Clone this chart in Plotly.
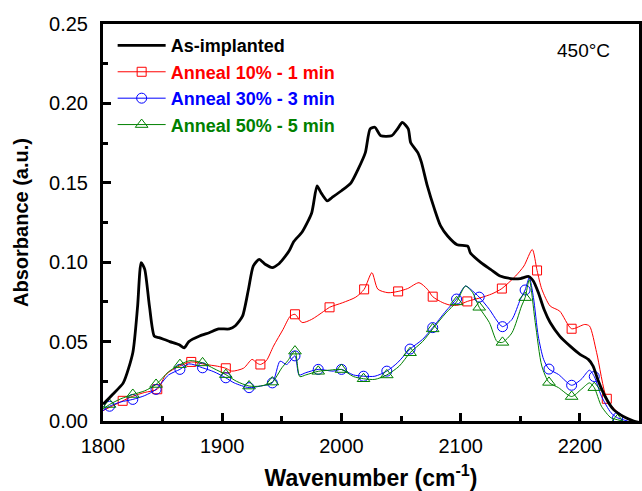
import plotly.graph_objects as go

# ---------------- data ----------------
bk_x = [1800, 1808, 1817, 1825, 1829, 1832, 1835, 1839, 1843, 1847, 1856, 1864, 1868, 1872,
        1881, 1889, 1897, 1906, 1911, 1917, 1922, 1926, 1931, 1936, 1942, 1947, 1951, 1956,
        1960, 1967, 1975, 1979.5, 1983, 1988, 1992, 2000, 2008, 2014, 2020, 2024, 2028, 2033,
        2042, 2047, 2051, 2056, 2058, 2064, 2067, 2072, 2078, 2083, 2089, 2097, 2106, 2108,
        2117, 2125, 2133, 2142, 2150, 2157, 2161, 2165, 2170, 2175, 2183, 2192, 2200, 2207,
        2211, 2215, 2221, 2228, 2236, 2245, 2250]
bk_y = [0.0105, 0.0167, 0.024, 0.043, 0.072, 0.0998, 0.0955, 0.072, 0.0535, 0.0525, 0.050,
        0.048, 0.046, 0.050, 0.0535, 0.0556, 0.058, 0.058, 0.060, 0.066, 0.083, 0.0976, 0.1018,
        0.0987, 0.0966, 0.0987, 0.102, 0.107, 0.113, 0.119, 0.131, 0.148, 0.1435, 0.1386,
        0.1407, 0.145, 0.150, 0.1586, 0.169, 0.184, 0.185, 0.1796, 0.1796, 0.184, 0.188, 0.184,
        0.1754, 0.169, 0.163, 0.148, 0.1334, 0.123, 0.1165, 0.111, 0.110, 0.106, 0.0997,
        0.0955, 0.0913, 0.0897, 0.0897, 0.091, 0.088, 0.081, 0.070, 0.062, 0.0535, 0.047,
        0.042, 0.0388, 0.0346, 0.026, 0.0156, 0.0073, 0.003, 0.0, -0.001]

r_x = [1800, 1808, 1816.5, 1825, 1835, 1845.5, 1853, 1864, 1874, 1886, 1896, 1903, 1908,
       1918, 1925, 1929, 1932, 1937, 1943, 1951, 1957, 1961, 1967, 1975, 1985, 1990, 2001,
       2012, 2019, 2025.5, 2030.5, 2039, 2047.5, 2055.5, 2065, 2072, 2076.5, 2085, 2092, 2098,
       2105.5, 2117, 2126, 2134.5, 2146, 2153, 2160, 2164, 2168, 2175, 2183, 2193, 2204, 2208,
       2214, 2222.5, 2232, 2243]
r_y = [0.0065, 0.0095, 0.0127, 0.0156, 0.018, 0.020, 0.0295, 0.0345, 0.0372, 0.0356, 0.0345,
       0.0332, 0.0314, 0.0333, 0.0388, 0.0365, 0.0356, 0.038, 0.0472, 0.0577, 0.066, 0.0672,
       0.062, 0.064, 0.069, 0.0716, 0.0745, 0.078, 0.0829, 0.0934, 0.083, 0.0808, 0.0816,
       0.0834, 0.0871, 0.083, 0.0783, 0.0745, 0.0728, 0.073, 0.0753, 0.0777, 0.080, 0.0834,
       0.0913, 0.0976, 0.108, 0.0948, 0.083, 0.0724, 0.0692, 0.0581, 0.0608, 0.0598, 0.043,
       0.014, 0.0052, 0.0]
r_mx = [1816.5, 1845.5, 1874, 1903, 1932, 1961, 1990, 2019, 2047.5, 2076.5, 2105.5, 2134.5,
        2164, 2193, 2222.5]
r_my = [0.0127, 0.020, 0.0372, 0.0332, 0.0356, 0.0672, 0.0716, 0.0829, 0.0816, 0.0783,
        0.0753, 0.0834, 0.0948, 0.0581, 0.014]

b_x = [1800, 1805.5, 1815, 1825, 1835, 1844.5, 1855, 1864.5, 1872, 1883.5, 1893, 1903, 1910,
       1922.5, 1932, 1942, 1948.5, 1954, 1961, 1964.5, 1970, 1980.5, 1993, 2000, 2010, 2018.5,
       2028, 2038, 2047, 2057.5, 2068, 2076.5, 2087.5, 2096.5, 2104, 2110, 2115.5, 2124,
       2130.5, 2135, 2143, 2150, 2154, 2157.5, 2161, 2165, 2169.5, 2174, 2182, 2193, 2201,
       2208, 2212, 2218, 2226, 2231.5, 2240]
b_y = [0.0065, 0.0093, 0.012, 0.0136, 0.016, 0.0199, 0.029, 0.0325, 0.036, 0.0335, 0.031,
       0.0272, 0.024, 0.021, 0.022, 0.024, 0.0377, 0.0356, 0.041, 0.029, 0.0304, 0.0325,
       0.0314, 0.0325, 0.029, 0.0282, 0.0282, 0.0314, 0.0367, 0.0453, 0.0514, 0.0588, 0.0692,
       0.0768, 0.085, 0.0818, 0.078, 0.0703, 0.063, 0.0594, 0.064, 0.0766, 0.0825, 0.0903,
       0.0777, 0.0535, 0.0388, 0.0327, 0.0293, 0.0225, 0.0262, 0.032, 0.028, 0.0156, 0.0052,
       0.002, 0.0]
g_x = [1800, 1805.5, 1815, 1825, 1835, 1844.5, 1855, 1864.5, 1873, 1883.5, 1893, 1903, 1912,
       1922.5, 1932, 1942, 1950, 1955, 1961, 1965, 1970, 1980.5, 1990, 2000, 2010, 2018.5,
       2028, 2038, 2048.5, 2057.5, 2068, 2076.5, 2087.5, 2096.5, 2104, 2110, 2115.5, 2124,
       2130.5, 2135, 2143, 2151, 2154, 2157.5, 2162.5, 2168, 2174, 2182, 2193, 2201, 2208,
       2212, 2218, 2226, 2231.5, 2240]
g_y = [0.0075, 0.0104, 0.014, 0.0167, 0.019, 0.023, 0.031, 0.0355, 0.038, 0.0366, 0.033,
       0.0292, 0.025, 0.022, 0.022, 0.0245, 0.0335, 0.038, 0.044, 0.028, 0.029, 0.0313, 0.032,
       0.0324, 0.028, 0.0266, 0.0262, 0.029, 0.0346, 0.043, 0.050, 0.058, 0.068, 0.075, 0.085,
       0.0808, 0.0716, 0.062, 0.050, 0.0495, 0.0556, 0.0724, 0.0777, 0.089, 0.062, 0.0346,
       0.0243, 0.021, 0.0154, 0.0199, 0.024, 0.021, 0.0093, 0.002, 0.0008, -0.001]
m_x = [1805.5, 1825, 1844.5, 1864.5, 1883.5, 1903, 1922.5, 1942, 1961, 1980.5, 2000, 2018.5,
       2038, 2057.5, 2076.5, 2096.5, 2115.5, 2135, 2154, 2174, 2193, 2212, 2231.5]
b_my = [0.0093, 0.0136, 0.0199, 0.0325, 0.0335, 0.0272, 0.021, 0.024, 0.041, 0.0325, 0.0325,
        0.0282, 0.0314, 0.0453, 0.0588, 0.0768, 0.078, 0.0594, 0.0825, 0.0327, 0.0225, 0.028,
        0.002]
g_my = [0.0104, 0.0167, 0.023, 0.0355, 0.0366, 0.0292, 0.022, 0.0245, 0.044, 0.0313, 0.0324,
        0.0266, 0.029, 0.043, 0.058, 0.075, 0.0716, 0.0495, 0.0777, 0.0243, 0.0154, 0.021,
        0.0008]

names = ["As-implanted", "Anneal 10% - 1 min", "Anneal 30% - 3 min", "Anneal 50% - 5 min"]
colors = ["#000000", "#ff0000", "#0000ff", "#008000"]
symbols = ["square-open", "circle-open", "triangle-up-open"]
msizes = [9, 10, 11]

FONT = "Liberation Sans, Arial, sans-serif"

fig = go.Figure()
series = [(r_x, r_y, r_mx, r_my), (b_x, b_y, m_x, b_my), (g_x, g_y, m_x, g_my)]
for i, (lx, ly, mx, my) in enumerate(series):
    c = colors[i + 1]
    fig.add_trace(go.Scatter(x=lx, y=ly, mode="lines", line=dict(color=c, width=1, shape="spline", smoothing=0.7),
                             showlegend=False, hoverinfo="skip"))
    fig.add_trace(go.Scatter(x=mx, y=my, mode="markers",
                             marker=dict(symbol=symbols[i], size=msizes[i], color=c, line=dict(color=c, width=1)),
                             showlegend=False))
    fig.add_trace(go.Scatter(x=[None], y=[None], mode="lines+markers",
                             line=dict(color=c, width=1),
                             marker=dict(symbol=symbols[i], size=msizes[i], color=c, line=dict(color=c, width=1)),
                             name=f"<b><span style='color:{c}'>{names[i + 1]}</span></b>",
                             legendrank=i + 2))

fig.add_trace(go.Scatter(x=bk_x, y=bk_y, mode="lines", line=dict(color="black", width=2.8, shape="spline", smoothing=0.6),
                         name=f"<b>{names[0]}</b>", legendrank=1))

fig.add_annotation(x=0.896, y=0.932, xref="paper", yref="paper", text="450°C", showarrow=False,
                   font=dict(family=FONT, size=19, color="black"), xanchor="center", yanchor="middle")

fig.update_layout(
    width=642, height=491,
    margin=dict(l=103, r=0, t=24, b=70),
    paper_bgcolor="white", plot_bgcolor="white",
    font=dict(family=FONT, color="black"),
    legend=dict(x=0.018, y=0.992, xanchor="left", yanchor="top", bgcolor="rgba(0,0,0,0)",
                font=dict(family=FONT, size=18, color="black"), itemwidth=48, tracegroupgap=0),
    xaxis=dict(range=[1800, 2249.5], showline=True, linecolor="black", linewidth=3, mirror=True,
               ticks="inside", ticklen=8, tickwidth=2.5, tickcolor="black", dtick=100, tick0=1800,
               minor=dict(dtick=50, ticks="inside", ticklen=5, tickwidth=2.5, tickcolor="black"),
               showgrid=False, zeroline=False, tickfont=dict(family=FONT, size=20, color="black"),
               ticklabelstandoff=5,
               title=dict(text="<b>Wavenumber (cm<sup>-1</sup>)</b>", font=dict(family=FONT, size=23, color="black"),
                          standoff=14)),
    yaxis=dict(range=[0, 0.25], showline=True, linecolor="black", linewidth=3, mirror=True,
               ticks="inside", ticklen=8, tickwidth=2.5, tickcolor="black", dtick=0.05, tick0=0,
               tickformat=".2f",
               minor=dict(dtick=0.025, ticks="inside", ticklen=5, tickwidth=2.5, tickcolor="black"),
               showgrid=False, zeroline=False, tickfont=dict(family=FONT, size=20, color="black"),
               ticklabelstandoff=8,
               title=dict(text="<b>Absorbance (a.u.)</b>", font=dict(family=FONT, size=20, color="black"),
                          standoff=16)),
)

fig.write_html("out.html")
